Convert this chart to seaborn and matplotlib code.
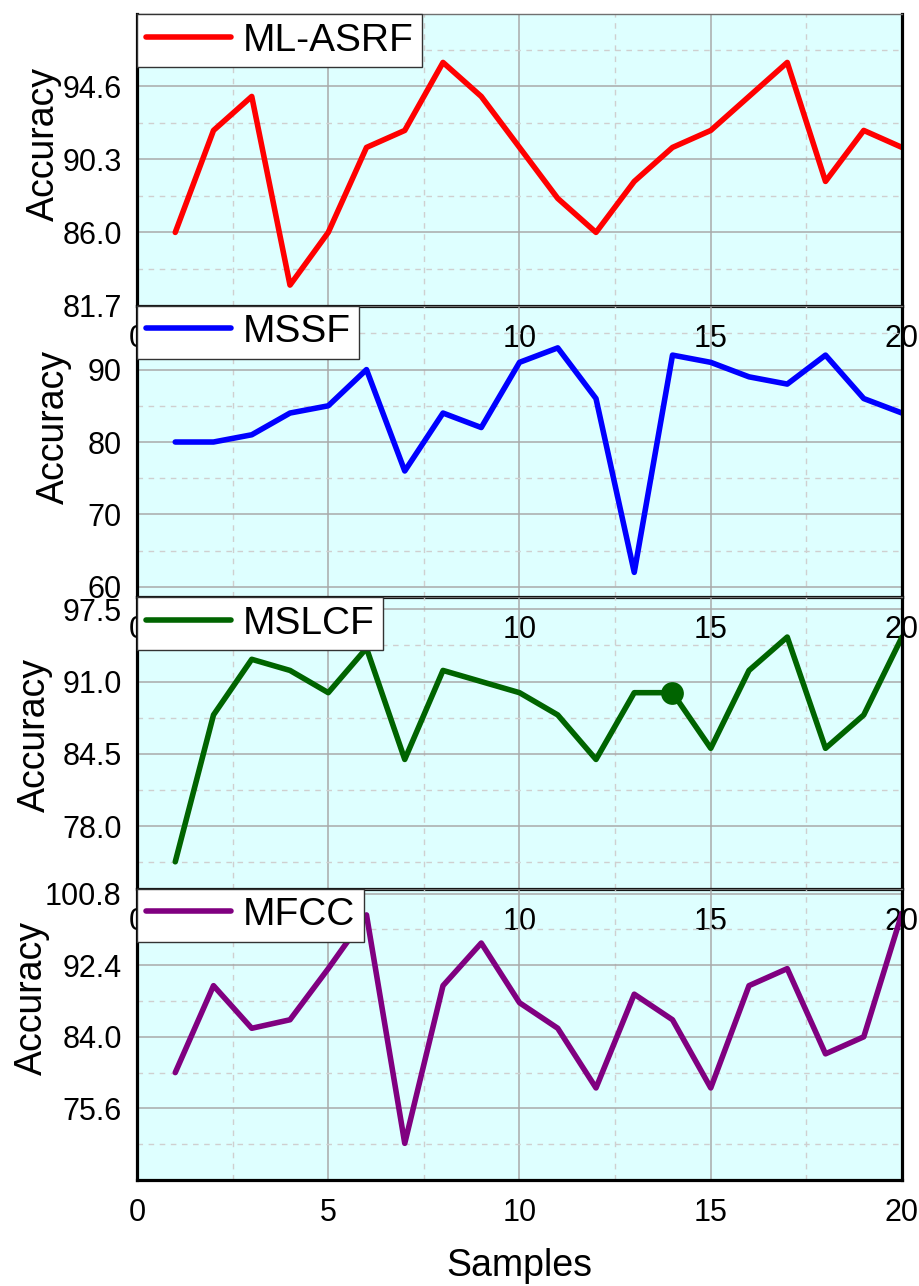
import matplotlib
matplotlib.use("Agg")
import matplotlib.pyplot as plt
import seaborn as sns
import pandas as pd
from matplotlib.patches import Rectangle

# ---------------- data ----------------
samples = list(range(1, 21))
ml_asrf = [86.0, 92.0, 94.0, 82.9, 86.0, 91.0, 92.0, 96.0, 94.0, 91.0,
           88.0, 86.0, 89.0, 91.0, 92.0, 94.0, 96.0, 89.0, 92.0, 91.0]
mssf = [80, 80, 81, 84, 85, 90, 76, 84, 82, 91,
        93, 86, 62, 92, 91, 89, 88, 92, 86, 84]
mslcf = [74.8, 88.0, 93.0, 92.0, 90.0, 94.0, 84.0, 92.0, 91.0, 90.0,
         88.0, 84.0, 90.0, 90.0, 85.0, 92.0, 95.0, 85.0, 88.0, 95.0]
mfcc = [79.8, 90.0, 85.0, 86.0, 92.0, 98.3, 71.5, 90.0, 95.0, 88.0,
        85.0, 78.0, 89.0, 86.0, 78.0, 90.0, 92.0, 82.0, 84.0, 98.5]

series_names = ["ML-ASRF", "MSSF", "MSLCF", "MFCC"]
series_values = [ml_asrf, mssf, mslcf, mfcc]
series_colors = ["#FF0000", "#0000FF", "#006400", "#800080"]

yticks_major = [[81.7, 86.0, 90.3, 94.6],
                [60, 70, 80, 90],
                [78.0, 84.5, 91.0, 97.5],
                [75.6, 84.0, 92.4, 100.8]]
ytick_labels = [["81.7", "86.0", "90.3", "94.6"],
                ["60", "70", "80", "90"],
                ["78.0", "84.5", "91.0", "97.5"],
                ["75.6", "84.0", "92.4", "100.8"]]
yticks_minor = [[83.85, 88.15, 92.45, 96.75],
                [65, 75, 85, 95],
                [74.75, 81.25, 87.75, 94.25],
                [71.4, 79.8, 88.2, 96.6]]
ylims = [(81.7, 98.85), (58.6, 98.85), (72.4, 98.6), (67.2, 101.4)]
xticks_major = [0, 5, 10, 15, 20]
xticks_minor = [2.5, 7.5, 12.5, 17.5]
marker_index = 13  # highlighted point on MSLCF (sample 14)

# ---------------- style ----------------
sns.set_style("white")
plt.rcParams["font.family"] = ["Liberation Sans", "DejaVu Sans"]
plt.rcParams["text.color"] = "black"

W, H = 920, 1286
fig = plt.figure(figsize=(W / 100, H / 100), dpi=100)

left_px, right_px = 137, 902
tops = [14, 305.5, 597, 888.5]
bottoms = [305.5, 597, 888.5, 1180]
label_coords = [(-0.098, 0.554), (-0.085, 0.583), (-0.110, 0.527), (-0.114, 0.624)]

# shared light-cyan background behind all panels
fig.add_artist(Rectangle((left_px / W, 1 - bottoms[-1] / H),
                         (right_px - left_px) / W,
                         (bottoms[-1] - tops[0]) / H,
                         transform=fig.transFigure, facecolor="#DEFFFF",
                         edgecolor="none", zorder=-5))

axes = []
for i in range(4):
    ax = fig.add_axes([left_px / W, 1 - bottoms[i] / H,
                       (right_px - left_px) / W, (bottoms[i] - tops[i]) / H])
    ax.patch.set_visible(False)
    df = pd.DataFrame({"Samples": samples, "Accuracy": series_values[i]})
    sns.lineplot(data=df, x="Samples", y="Accuracy", ax=ax,
                 color=series_colors[i], linewidth=4.0, label=series_names[i])
    if i == 2:
        sns.scatterplot(x=[samples[marker_index]], y=[mslcf[marker_index]], ax=ax,
                        color=series_colors[i], s=230, edgecolor=series_colors[i],
                        zorder=4, legend=False)

    ax.set_xlim(0, 20)
    ax.set_ylim(*ylims[i])
    ax.set_xticks(xticks_major)
    ax.set_xticklabels([str(v) for v in xticks_major])
    ax.set_xticks(xticks_minor, minor=True)
    ax.set_yticks(yticks_major[i])
    ax.set_yticklabels(ytick_labels[i])
    ax.set_yticks(yticks_minor[i], minor=True)

    ax.grid(which="major", color="#A9A9A9", linewidth=1.1, linestyle="-")
    ax.grid(which="minor", color="#CFCFCF", linewidth=1.0, linestyle=(0, (4, 4)))
    ax.tick_params(which="both", length=0, labelsize=22, colors="black")
    ax.tick_params(axis="y", pad=11)
    ax.tick_params(axis="x", pad=13)

    for s in ["left", "right", "bottom"]:
        ax.spines[s].set_visible(True)
        ax.spines[s].set_color("black")
        ax.spines[s].set_linewidth(2.3)
    ax.spines["top"].set_visible(True)
    ax.spines["top"].set_color("#707070")
    ax.spines["top"].set_linewidth(1.0)

    ax.set_ylabel("Accuracy", fontsize=27, color="black")
    ax.yaxis.set_label_coords(*label_coords[i])
    if i < 3:
        ax.set_xlabel("")
    else:
        ax.set_xlabel("Samples", fontsize=27, color="black", labelpad=14)

    leg = ax.legend(loc="upper left", bbox_to_anchor=(0.0, 1.0), borderaxespad=0,
                    fontsize=28, frameon=True, fancybox=False, edgecolor="#333333",
                    framealpha=1, facecolor="white", handlelength=2.2,
                    handletextpad=0.3, borderpad=0.22, labelcolor="black")
    leg.get_frame().set_linewidth(1.0)
    axes.append(ax)

fig.savefig("out.png", dpi=100)
